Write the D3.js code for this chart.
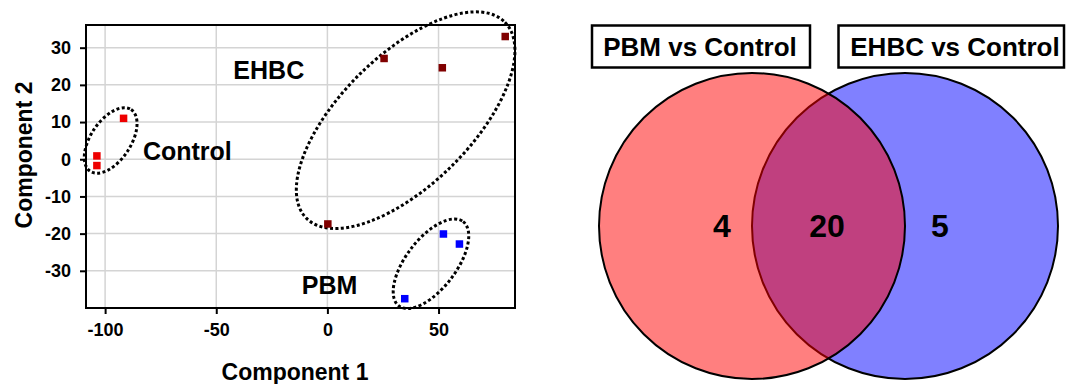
<!DOCTYPE html>
<html>
<head>
<meta charset="utf-8">
<script src="https://cdn.jsdelivr.net/npm/d3@7"></script>
<style>
  body { margin: 0; background: #fff; }
  text { font-family: "Liberation Sans", Arial, sans-serif; font-weight: bold; fill: #000; }
</style>
</head>
<body>
<div id="chart"></div>
<script>
// Scatter data (Component 1 / Component 2)
var controlX = [-103.7, -103.7, -91.7];
var controlY = [0.9, -1.7, 11.0];
var ehbcX = [25.5, 51.7, 80.0, 0.2];
var ehbcY = [27.1, 24.6, 33.0, -17.4];
var pbmX = [52.2, 59.4, 34.8];
var pbmY = [-20.1, -22.8, -37.5];

var xTicks = [-100, -50, 0, 50];
var yTicks = [-30, -20, -10, 0, 10, 20, 30];

// Venn data
var vennSets = ["PBM vs Control", "EHBC vs Control"];
var vennCounts = [4, 20, 5];   // only PBM, both, only EHBC

// SVG area
var svg__Width = 1066;
var svg__Height = 384;

var svg = d3.select("#chart")
  .append("svg")
  .attr("width", svg__Width)
  .attr("height", svg__Height);

// ---------- scatter panel ----------
var plot = { left: 86, top: 25, right: 515, bottom: 308 };

var xScale = d3.scaleLinear()
  .domain([-108.6, 84.4])
  .range([plot.left, plot.right]);

var yScale = d3.scaleLinear()
  .domain([-40, 36.1])
  .range([plot.bottom, plot.top]);

var chart__Group = svg.append("g");

// grid lines
chart__Group.append("g")
  .selectAll("line")
  .data(xTicks)
  .enter()
  .append("line")
  .attr("x1", d => xScale(d)).attr("x2", d => xScale(d))
  .attr("y1", plot.top).attr("y2", plot.bottom)
  .attr("stroke", "#d4d4d4").attr("stroke-width", 1.5);

chart__Group.append("g")
  .selectAll("line")
  .data(yTicks)
  .enter()
  .append("line")
  .attr("y1", d => yScale(d)).attr("y2", d => yScale(d))
  .attr("x1", plot.left).attr("x2", plot.right)
  .attr("stroke", "#d4d4d4").attr("stroke-width", 1.5);

// axes (plain hyphen for negatives, like the original)
var bottom__Axis = d3.axisBottom(xScale).tickValues(xTicks)
  .tickFormat(d => String(d)).tickSize(6).tickPadding(9);
var left__Axis = d3.axisLeft(yScale).tickValues(yTicks)
  .tickFormat(d => String(d)).tickSize(6).tickPadding(9);

var gx = chart__Group.append("g")
  .attr("transform", `translate(0, ${plot.bottom})`)
  .call(bottom__Axis);
var gy = chart__Group.append("g")
  .attr("transform", `translate(${plot.left}, 0)`)
  .call(left__Axis);

[gx, gy].forEach(function(g) {
  g.select(".domain").remove();
  g.selectAll(".tick line").attr("stroke", "#000").attr("stroke-width", 2);
  g.selectAll(".tick text")
    .attr("font-size", 18)
    .attr("font-family", "'Liberation Sans', Arial, sans-serif")
    .attr("font-weight", "bold")
    .attr("fill", "#000");
});

// frame
chart__Group.append("rect")
  .attr("x", plot.left).attr("y", plot.top)
  .attr("width", plot.right - plot.left)
  .attr("height", plot.bottom - plot.top)
  .attr("fill", "none")
  .attr("stroke", "#000")
  .attr("stroke-width", 2);

// axis titles
chart__Group.append("text")
  .attr("x", 295).attr("y", 380)
  .attr("text-anchor", "middle")
  .attr("font-size", 23)
  .text("Component 1");

chart__Group.append("text")
  .attr("transform", "translate(32, 155) rotate(-90)")
  .attr("text-anchor", "middle")
  .attr("font-size", 23)
  .text("Component 2");

// group ellipses (center in data units)
var ellipses = [
  { cx: -97.5, cy: 5.05, rx: 37, ry: 20, angle: -56.5 },
  { cx: 35.2, cy: 10.5, rx: 139.5, ry: 65, angle: -44.6 },
  { cx: 46.6, cy: -28.1, rx: 53, ry: 25, angle: -52.7 }
];

chart__Group.selectAll(".grp")
  .data(ellipses)
  .enter()
  .append("ellipse")
  .attr("class", "grp")
  .attr("transform", d => `translate(${xScale(d.cx)}, ${yScale(d.cy)}) rotate(${d.angle})`)
  .attr("rx", d => d.rx)
  .attr("ry", d => d.ry)
  .attr("fill", "none")
  .attr("stroke", "#000")
  .attr("stroke-width", 3)
  .attr("stroke-dasharray", "3 2.4");

// points
var series = [
  { xs: controlX, ys: controlY, color: "#ee0000" },
  { xs: ehbcX, ys: ehbcY, color: "#800000" },
  { xs: pbmX, ys: pbmY, color: "#0000ff" }
];
var sq = 7.5;
series.forEach(function(s) {
  chart__Group.append("g")
    .selectAll("rect")
    .data(s.xs.map((x, i) => [x, s.ys[i]]))
    .enter()
    .append("rect")
    .attr("x", d => xScale(d[0]) - sq / 2)
    .attr("y", d => yScale(d[1]) - sq / 2)
    .attr("width", sq)
    .attr("height", sq)
    .attr("fill", s.color);
});

// group labels
var groupLabels = [
  { text: "EHBC", x: -42.3, y: 21.5 },
  { text: "Control", x: -83, y: -0.2 },
  { text: "PBM", x: -11.5, y: -36.2 }
];
chart__Group.selectAll(".glabel")
  .data(groupLabels)
  .enter()
  .append("text")
  .attr("class", "glabel")
  .attr("x", d => xScale(d.x))
  .attr("y", d => yScale(d.y))
  .attr("font-size", 25)
  .text(d => d.text);

// ---------- venn panel ----------
var venn = { cy: 226, r: 153, cxLeft: 752 };
var vennX = d3.scaleLinear().domain([0, 1]).range([venn.cxLeft, venn.cxLeft + venn.r]);

var venn__Group = svg.append("g");

// right (blue) circle first, left (red) translucent on top
venn__Group.append("circle")
  .attr("cx", vennX(1)).attr("cy", venn.cy).attr("r", venn.r)
  .attr("fill", "#8080ff")
  .attr("stroke", "#000").attr("stroke-width", 2);

venn__Group.append("circle")
  .attr("cx", vennX(0)).attr("cy", venn.cy).attr("r", venn.r)
  .attr("fill", "rgba(255,0,0,0.5)")
  .attr("stroke", "#000").attr("stroke-width", 2);

// counts
var countX = [722, 827, 940];
venn__Group.selectAll(".count")
  .data(vennCounts)
  .enter()
  .append("text")
  .attr("class", "count")
  .attr("x", (d, i) => countX[i])
  .attr("y", 237)
  .attr("text-anchor", "middle")
  .attr("font-size", 32)
  .text(d => d);

// set title boxes
var boxes = [
  { x: 592, w: 218, tx: 700 },
  { x: 838.5, w: 225.5, tx: 955 }
];
vennSets.forEach(function(name, i) {
  venn__Group.append("rect")
    .attr("x", boxes[i].x).attr("y", 25.5)
    .attr("width", boxes[i].w).attr("height", 42)
    .attr("fill", "#fff")
    .attr("stroke", "#000").attr("stroke-width", 2.5);
  venn__Group.append("text")
    .attr("x", boxes[i].tx).attr("y", 55.5)
    .attr("text-anchor", "middle")
    .attr("font-size", 26)
    .text(name);
});
</script>
</body>
</html>
